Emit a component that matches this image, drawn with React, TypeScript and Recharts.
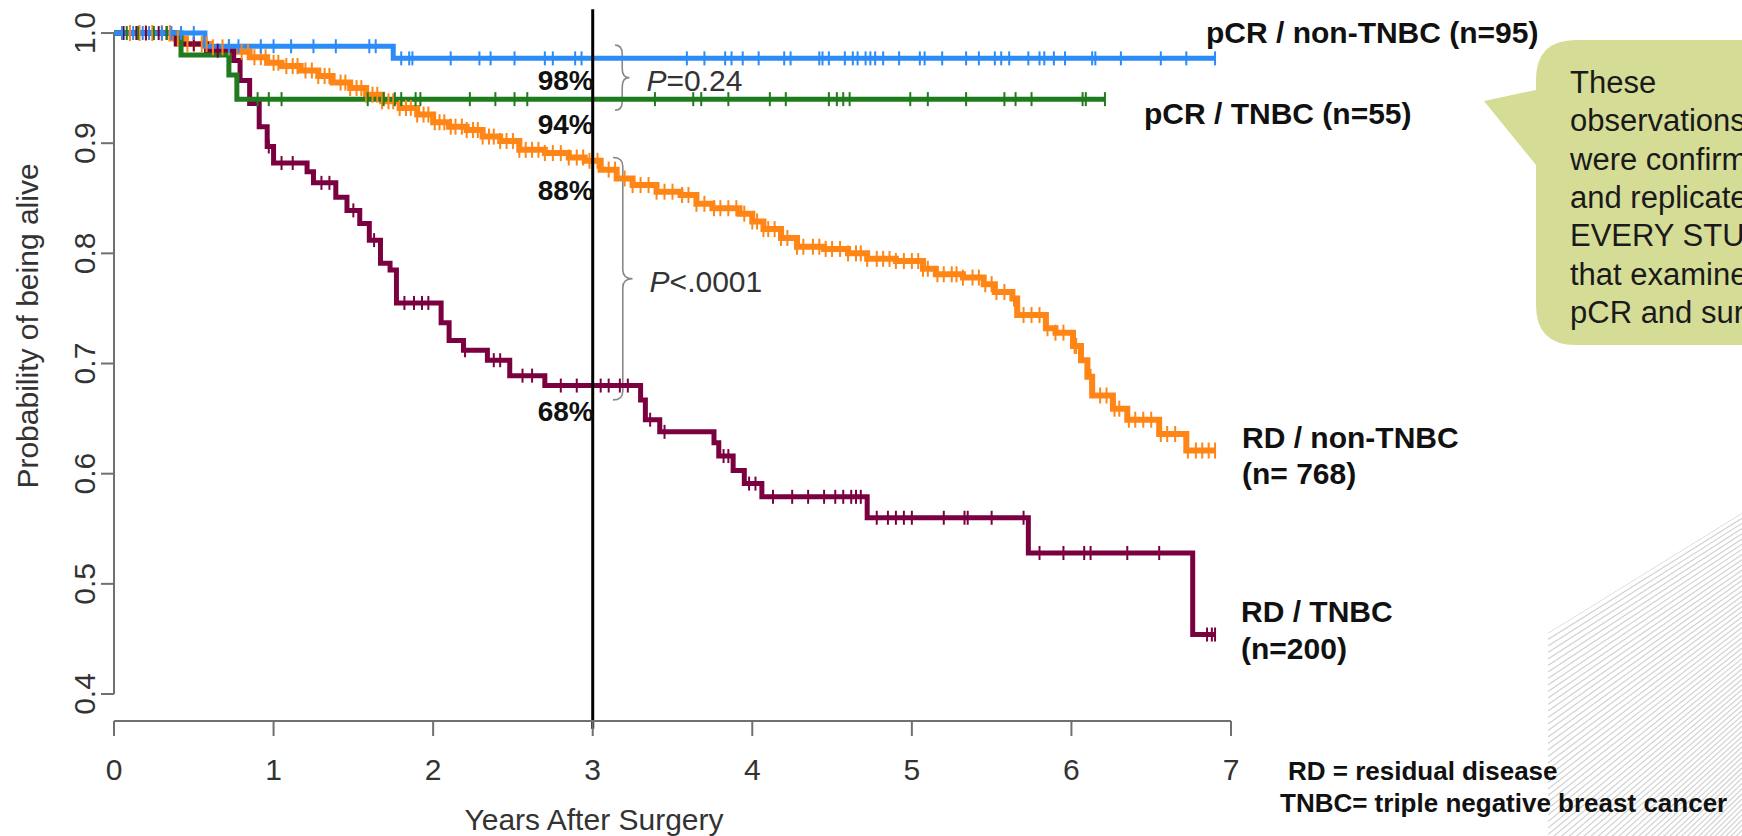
import React from 'react';
import { ComposedChart, Line, XAxis, YAxis, ReferenceLine, ReferenceDot, ReferenceArea } from 'recharts';

const FONT = '"Liberation Sans", Arial, Helvetica, sans-serif';

// axes
const xTicks = [0, 1, 2, 3, 4, 5, 6, 7];
const yTicks = [0.4, 0.5, 0.6, 0.7, 0.8, 0.9, 1.0];

// Kaplan-Meier steps: [years after surgery, probability alive]
const pcrNonTnbcSteps: [number, number][] = [[0, 1], [0.57, 0.988], [1.75, 0.977]];
const pcrNonTnbcEnd = 6.9;
const pcrNonTnbcCensor = [
  0.05, 0.12, 0.18, 0.22, 0.3, 0.36, 0.42, 0.5, 0.72, 0.78, 0.92, 1.0, 1.11, 1.25, 1.39, 1.6, 1.64,
  1.8, 1.85, 1.87, 2.11, 2.29, 2.36, 2.51, 2.7, 2.75, 2.89, 2.93, 3.59, 3.7, 3.83, 3.87, 3.94, 4.04,
  4.2, 4.24, 4.42, 4.44, 4.48, 4.58, 4.63, 4.66, 4.71, 4.74, 4.77, 4.82, 4.92, 5.05, 5.08, 5.19,
  5.34, 5.42, 5.52, 5.56, 5.61, 5.73, 5.8, 5.83, 5.89, 5.96, 6.13, 6.15, 6.31, 6.56, 6.72,
];

const pcrTnbcSteps: [number, number][] = [[0, 1], [0.42, 0.98], [0.72, 0.962], [0.77, 0.94]];
const pcrTnbcEnd = 6.21;
const pcrTnbcCensor = [
  0.08, 0.15, 0.25, 0.33, 0.9, 0.97, 1.05, 1.59, 1.69, 1.76, 1.8, 1.89, 1.92, 2.23, 2.39, 2.51, 2.59,
  3.39, 3.63, 3.68, 3.85, 4.11, 4.21, 4.48, 4.53, 4.57, 4.61, 4.99, 5.1, 5.34, 5.58, 5.65, 5.75, 6.07, 6.09,
];

const rdNonTnbcSteps: [number, number][] = [
  [0, 1], [0.36, 0.995], [0.45, 0.99], [0.6, 0.987], [0.75, 0.983], [0.85, 0.978], [0.96, 0.973],
  [1.05, 0.97], [1.17, 0.966], [1.28, 0.961], [1.37, 0.955], [1.48, 0.95], [1.58, 0.944], [1.68, 0.938],
  [1.79, 0.932], [1.9, 0.926], [2.0, 0.919], [2.1, 0.915], [2.21, 0.912], [2.31, 0.906], [2.42, 0.902],
  [2.54, 0.894], [2.7, 0.891], [2.85, 0.887], [2.95, 0.884], [3.05, 0.876], [3.15, 0.868], [3.25, 0.862],
  [3.4, 0.856], [3.55, 0.853], [3.65, 0.845], [3.75, 0.841], [3.92, 0.836], [4.0, 0.829], [4.07, 0.822],
  [4.18, 0.814], [4.28, 0.806], [4.45, 0.804], [4.6, 0.8], [4.72, 0.795], [4.9, 0.793], [5.07, 0.786],
  [5.15, 0.781], [5.32, 0.778], [5.45, 0.772], [5.52, 0.765], [5.63, 0.759], [5.66, 0.744], [5.84, 0.732],
  [5.9, 0.728], [6.01, 0.716], [6.06, 0.703], [6.1, 0.688], [6.13, 0.671], [6.26, 0.659], [6.35, 0.649],
  [6.55, 0.636], [6.72, 0.621],
];
const rdNonTnbcEnd = 6.9;
const rdNonTnbcCensor = [
  0.1, 0.16, 0.2, 0.24, 0.3, 0.35, 0.4, 0.46, 0.5, 0.55, 0.58, 0.62, 0.68, 0.72, 0.8, 0.84, 0.88, 0.92,
  0.95, 1.0, 1.03, 1.08, 1.12, 1.15, 1.2, 1.24, 1.28, 1.32, 1.35, 1.42, 1.45, 1.48, 1.52, 1.55, 1.58,
  1.62, 1.65, 1.68, 1.72, 1.75, 1.79, 1.83, 1.86, 1.9, 1.94, 1.97, 2.01, 2.04, 2.07, 2.11, 2.14, 2.18,
  2.21, 2.25, 2.28, 2.31, 2.35, 2.38, 2.42, 2.46, 2.5, 2.54, 2.58, 2.62, 2.66, 2.7, 2.75, 2.8, 2.85,
  2.9, 2.94, 2.98, 3.03, 3.1, 3.14, 3.2, 3.25, 3.3, 3.35, 3.4, 3.45, 3.5, 3.56, 3.6, 3.65, 3.7, 3.76,
  3.8, 3.85, 3.9, 3.95, 4.0, 4.03, 4.07, 4.1, 4.14, 4.18, 4.22, 4.28, 4.32, 4.38, 4.42, 4.46, 4.5,
  4.55, 4.6, 4.65, 4.68, 4.72, 4.78, 4.82, 4.86, 4.9, 4.95, 5.0, 5.04, 5.07, 5.1, 5.16, 5.2, 5.25,
  5.28, 5.32, 5.38, 5.42, 5.46, 5.5, 5.53, 5.58, 5.64, 5.7, 5.75, 5.8, 5.85, 5.9, 5.95, 6.02, 6.03,
  6.12, 6.18, 6.22, 6.27, 6.3, 6.36, 6.4, 6.45, 6.5, 6.56, 6.6, 6.65, 6.73, 6.78, 6.82, 6.86,
];

const rdTnbcSteps: [number, number][] = [
  [0, 1], [0.39, 0.99], [0.58, 0.984], [0.75, 0.975], [0.79, 0.957], [0.85, 0.936], [0.91, 0.915],
  [0.96, 0.897], [1.0, 0.882], [1.21, 0.874], [1.25, 0.864], [1.39, 0.851], [1.46, 0.839], [1.54, 0.827],
  [1.6, 0.812], [1.67, 0.791], [1.73, 0.785], [1.77, 0.755], [2.05, 0.737], [2.1, 0.721], [2.19, 0.712],
  [2.34, 0.703], [2.48, 0.689], [2.7, 0.68], [3.3, 0.667], [3.33, 0.649], [3.42, 0.638], [3.76, 0.628],
  [3.79, 0.616], [3.88, 0.603], [3.95, 0.591], [4.06, 0.579], [4.72, 0.56], [5.73, 0.528], [6.76, 0.454],
];
const rdTnbcEnd = 6.9;
const rdTnbcCensor = [
  0.06, 0.14, 0.2, 0.28, 0.33, 0.5, 0.65, 0.97, 1.05, 1.12, 1.3, 1.35, 1.5, 1.63, 1.82, 1.88, 1.93, 1.97,
  2.2, 2.38, 2.42, 2.56, 2.62, 2.8, 2.9, 3.05, 3.1, 3.17, 3.22, 3.36, 3.45, 3.82, 3.85, 3.98, 4.02, 4.13,
  4.25, 4.35, 4.45, 4.52, 4.57, 4.62, 4.65, 4.68, 4.78, 4.85, 4.9, 4.95, 5.0, 5.2, 5.33, 5.35, 5.5, 5.7,
  5.8, 5.95, 6.08, 6.12, 6.35, 6.55, 6.85, 6.88,
];

// survival read at 3 years (labels)
const threeYearMarks = [
  { p: 0.98, text: '98%' },
  { p: 0.94, text: '94%' },
  { p: 0.88, text: '88%' },
  { p: 0.68, text: '68%' },
];

// comparison braces
const braces = [
  { t1: 3.14, t2: 3.23, p1: 0.93, p2: 0.989, label: '=0.24' },
  { t1: 3.127, t2: 3.25, p1: 0.667, p2: 0.887, label: '<.0001' },
];

const calloutLines = ['These', 'observations', 'were confirmed', 'and replicated in', 'EVERY STUDY', 'that examined', 'pCR and survival'];

function survivalAt(steps: [number, number][], t: number) {
  let s = steps[0][1];
  for (const [ts, v] of steps) if (ts <= t) s = v;
  return s;
}

function buildKm(steps: [number, number][], censor: number[], end: number) {
  const pts = steps.map(([t, s]) => ({ t, s, c: 0 }));
  censor.forEach((t) => pts.push({ t, s: survivalAt(steps, t), c: 1 }));
  pts.push({ t: end, s: survivalAt(steps, end), c: 1 });
  return pts.sort((a, b) => a.t - b.t || b.s - a.s);
}

const series = [
  { key: 'rdNonTnbc', data: buildKm(rdNonTnbcSteps, rdNonTnbcCensor, rdNonTnbcEnd), color: '#ff8616', width: 6, tick: 8 },
  { key: 'rdTnbc', data: buildKm(rdTnbcSteps, rdTnbcCensor, rdTnbcEnd), color: '#7a0040', width: 5, tick: 7 },
  { key: 'pcrTnbc', data: buildKm(pcrTnbcSteps, pcrTnbcCensor, pcrTnbcEnd), color: '#1e7b1e', width: 5, tick: 7 },
  { key: 'pcrNonTnbc', data: buildKm(pcrNonTnbcSteps, pcrNonTnbcCensor, pcrNonTnbcEnd), color: '#2b8cf8', width: 5, tick: 7 },
];

const censorDot = (color: string, half: number) => (props: any) => {
  const { cx, cy, payload, index } = props;
  if (!payload || !payload.c) return <g key={`e-${index}`} />;
  return <line key={`c-${index}`} x1={cx} x2={cx} y1={cy - half} y2={cy + half} stroke={color} strokeWidth={2} />;
};

const XTick = (props: any) => {
  const { x, y, payload } = props;
  return (
    <text x={x} y={y + 42} textAnchor="middle" fontSize={30} fill="#333" fontFamily={FONT}>
      {payload.value}
    </text>
  );
};

const YTick = (props: any) => {
  const { x, y, payload } = props;
  return (
    <text transform={`translate(${x - 4},${y}) rotate(-90)`} textAnchor="middle" fontSize={30} fill="#333" fontFamily={FONT}>
      {Number(payload.value).toFixed(1)}
    </text>
  );
};

const Brace = (props: any) => {
  const { x, y, width, height, label } = props;
  const xm = x + width / 2;
  const mid = y + height / 2;
  const r = Math.min(9, height / 5);
  const d = `M ${x} ${y} Q ${xm} ${y} ${xm} ${y + r} L ${xm} ${mid - r} Q ${xm} ${mid} ${x + width} ${mid} Q ${xm} ${mid} ${xm} ${mid + r} L ${xm} ${y + height - r} Q ${xm} ${y + height} ${x} ${y + height}`;
  return (
    <g>
      <path d={d} fill="none" stroke="#888" strokeWidth={1.6} />
      <text x={x + width + 17} y={mid + 13} fontSize={30} fill="#333" fontFamily={FONT}>
        <tspan fontStyle="italic">P</tspan>
        {label}
      </text>
    </g>
  );
};

export default function App() {
  return (
    <div style={{ position: 'absolute', left: 0, top: 0, width: 1742, height: 836, overflow: 'hidden', background: '#fff', fontFamily: FONT }}>
      <svg width={1742} height={836} style={{ position: 'absolute', left: 0, top: 0 }}>
        <defs>
          <clipPath id="hatchClip">
            <polygon points="1548,836 1548,633 1742,513 1742,836" />
          </clipPath>
        </defs>
        <g clipPath="url(#hatchClip)" stroke="#d2d2d2" strokeWidth={1.2}>
          {Array.from({ length: 75 }, (_, i) => (
            <line key={i} x1={1548} y1={633 + i * 6.5} x2={1742} y2={513 + i * 5.2} />
          ))}
        </g>
      </svg>

      <div style={{ position: 'absolute', left: 0, top: 0 }}>
        <ComposedChart width={1742} height={836} margin={{ top: 11, right: 511, bottom: 0, left: 0 }}>
          <XAxis
            type="number"
            dataKey="t"
            domain={[0, 7]}
            ticks={xTicks}
            allowDataOverflow
            height={115}
            tickSize={15}
            tick={<XTick />}
            axisLine={{ stroke: '#707070', strokeWidth: 2 }}
            tickLine={{ stroke: '#707070', strokeWidth: 2 }}
          />
          <YAxis
            type="number"
            dataKey="s"
            domain={[0.3755, 1.02]}
            ticks={yTicks}
            allowDataOverflow
            width={114}
            tickSize={13}
            tick={<YTick />}
            axisLine={false}
            tickLine={{ stroke: '#707070', strokeWidth: 2 }}
          />
          <ReferenceLine
            segment={[{ x: 0, y: 0.4 }, { x: 0, y: 1.0 }]}
            stroke="#707070"
            strokeWidth={2}
            ifOverflow="visible"
          />
          {series.map((s) => (
            <Line
              key={s.key}
              data={s.data}
              type="stepAfter"
              dataKey="s"
              stroke={s.color}
              strokeWidth={s.width}
              dot={censorDot(s.color, s.tick)}
              activeDot={false}
              isAnimationActive={false}
              legendType="none"
            />
          ))}
          {braces.map((b, i) => (
            <ReferenceArea
              key={`brace-${i}`}
              x1={b.t1}
              x2={b.t2}
              y1={b.p1}
              y2={b.p2}
              ifOverflow="visible"
              shape={(p: any) => <Brace {...p} label={b.label} />}
            />
          ))}
          {threeYearMarks.map((m) => (
            <ReferenceDot
              key={m.text}
              x={3}
              y={m.p}
              r={0}
              ifOverflow="visible"
              shape={(p: any) => (
                <text x={p.cx + 1} y={p.cy + 35} textAnchor="end" fontSize={28} fontWeight="bold" fill="#111" fontFamily={FONT}>
                  {m.text}
                </text>
              )}
            />
          ))}
          <ReferenceLine
            segment={[{ x: 3, y: 0.3685 }, { x: 3, y: 1.0215 }]}
            stroke="#000"
            strokeWidth={3}
            ifOverflow="visible"
          />
        </ComposedChart>
      </div>

      <svg width={1742} height={836} style={{ position: 'absolute', left: 0, top: 0, pointerEvents: 'none' }}>
        <text transform="translate(38,326) rotate(-90)" textAnchor="middle" fontSize={30} fill="#333" fontFamily={FONT}>
          Probability of being alive
        </text>
        <text x={594} y={830} textAnchor="middle" fontSize={30} fill="#333" fontFamily={FONT}>
          Years After Surgery
        </text>

        <g fontSize={30} fontWeight="bold" fill="#111" fontFamily={FONT}>
          <text x={1206} y={43}>pCR / non-TNBC (n=95)</text>
          <text x={1144} y={124}>pCR / TNBC (n=55)</text>
          <text x={1242} y={448}>RD / non-TNBC</text>
          <text x={1242} y={484}>(n= 768)</text>
          <text x={1241} y={622}>RD / TNBC</text>
          <text x={1241} y={659}>(n=200)</text>
        </g>
        <g fontSize={26} fontWeight="bold" fill="#111" fontFamily={FONT}>
          <text x={1288} y={780}>RD = residual disease</text>
          <text x={1280} y={812}>TNBC= triple negative breast cancer</text>
        </g>

        <path
          d="M 1576 40 L 1800 40 L 1800 345 L 1576 345 Q 1536 345 1536 305 L 1536 165 L 1484 101 L 1536 90 L 1536 80 Q 1536 40 1576 40 Z"
          fill="#d5dc96"
        />
        <g fontSize={31} fill="#1a1a1a" fontFamily={FONT}>
          {calloutLines.map((line, i) => (
            <text key={line} x={1570} y={93 + i * 38.3}>
              {line}
            </text>
          ))}
        </g>
      </svg>
    </div>
  );
}
